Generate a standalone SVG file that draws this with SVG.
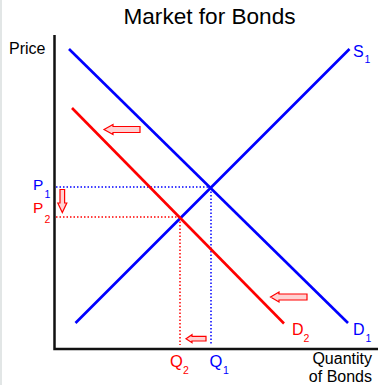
<svg xmlns="http://www.w3.org/2000/svg" width="378" height="385" viewBox="0 0 378 385">
<style>
text{font-family:"Liberation Sans",Arial,sans-serif}
.b{fill:#0000ff}.r{fill:#ff0000}.k{fill:#000}
.lb{stroke:#0000ff;stroke-width:2.6;fill:none}
.lr{stroke:#ff0000;stroke-width:2.6;fill:none}
.db{stroke:#0000ff;stroke-width:1.5;stroke-dasharray:1.5 2;fill:none}
.dr{stroke:#ff0000;stroke-width:1.5;stroke-dasharray:1.5 2;fill:none}
.ar{fill:#ffd2d2;stroke:#ff0000;stroke-width:1.2;stroke-linejoin:miter}
.ax{stroke:#111;stroke-width:2.5;fill:none}
</style>
<rect width="378" height="385" fill="#fff"/>
<line x1="1" y1="0" x2="1" y2="385" stroke="#e2e6e6" stroke-width="2"/>
<g id="title"><text x="209.5" y="24" font-size="22.6" text-anchor="middle" class="k">Market for Bonds</text></g>
<g id="axes">
<path class="ax" d="M54.5,35 V349 H378"/>
<text x="9" y="54" font-size="16" class="k">Price</text>
<text x="372" y="363.5" font-size="16" text-anchor="end" class="k">Quantity</text>
<text x="372" y="382" font-size="16" text-anchor="end" class="k">of Bonds</text>
</g>
<g id="connectors">
<line class="db" x1="56" y1="187" x2="210" y2="187"/>
<line class="db" x1="211" y1="188" x2="211" y2="345"/>
<line class="dr" x1="56" y1="217" x2="180" y2="217"/>
<line class="dr" x1="180" y1="218" x2="180" y2="345"/>
</g>
<g id="D1"><line class="lb" x1="69" y1="49" x2="348" y2="323"/>
<text x="353" y="335" font-size="16" class="b">D</text><text x="365.5" y="342" font-size="10.5" class="b">1</text></g>
<g id="S1"><line class="lb" x1="75.5" y1="323" x2="349.5" y2="49"/>
<text x="353" y="57" font-size="16" class="b">S</text><text x="364.5" y="63" font-size="10.5" class="b">1</text></g>
<g id="D2"><line class="lr" x1="72" y1="108" x2="284" y2="323.5"/>
<text x="292" y="335" font-size="16" class="r">D</text><text x="303.5" y="342" font-size="10.5" class="r">2</text></g>
<g id="P1"><text x="33" y="190" font-size="15.5" class="b">P</text><text x="44.5" y="198" font-size="10.5" class="b">1</text></g>
<g id="P2"><text x="33" y="213" font-size="15.5" class="r">P</text><text x="44.5" y="222.5" font-size="10.5" class="r">2</text></g>
<g id="Q2"><text x="170" y="367" font-size="16.5" class="r">Q</text><text x="183" y="373.5" font-size="10.5" class="r">2</text></g>
<g id="Q1"><text x="209.5" y="367" font-size="16.5" class="b">Q</text><text x="223" y="373.5" font-size="10.5" class="b">1</text></g>
<g id="arrows">
<polygon class="ar" points="104,129.5 113,124.5 113,126.5 140,126.5 140,132.5 113,132.5 113,134.5"/>
<polygon class="ar" points="270.5,297 279,292 279,294 307,294 307,300 279,300 279,302"/>
<polygon class="ar" points="186,338.7 192,334.7 192,336.4 206,336.4 206,341 192,341 192,342.7"/>
<polygon class="ar" points="62.3,212.5 57.8,203 60,203 60,189.5 64.6,189.5 64.6,203 66.8,203"/>
</g>
</svg>
